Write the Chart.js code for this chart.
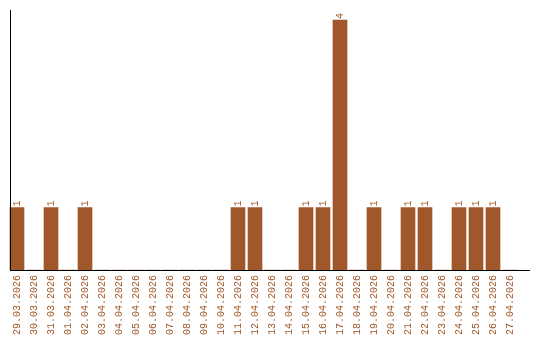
<!DOCTYPE html>
<html>
<head>
<meta charset="utf-8">
<script src="https://cdn.jsdelivr.net/npm/chart.js@4/dist/chart.umd.min.js"></script>
<style>
  html, body { margin: 0; padding: 0; background: #fff; }
  #wrap { width: 540px; height: 340px; }
</style>
</head>
<body>
<div id="wrap"><canvas id="chart" width="540" height="340"></canvas></div>
<script>
// dates on the x axis
const days = [
  '29.03.2026', '30.03.2026', '31.03.2026', '01.04.2026', '02.04.2026',
  '03.04.2026', '04.04.2026', '05.04.2026', '06.04.2026', '07.04.2026',
  '08.04.2026', '09.04.2026', '10.04.2026', '11.04.2026', '12.04.2026',
  '13.04.2026', '14.04.2026', '15.04.2026', '16.04.2026', '17.04.2026',
  '18.04.2026', '19.04.2026', '20.04.2026', '21.04.2026', '22.04.2026',
  '23.04.2026', '24.04.2026', '25.04.2026', '26.04.2026', '27.04.2026'
];

// count per day
const counts = [
  1, 0, 1, 0, 1,
  0, 0, 0, 0, 0,
  0, 0, 0, 1, 1,
  0, 0, 1, 1, 4,
  0, 1, 0, 1, 1,
  0, 1, 1, 1, 0
];

const brown = '#a0582a';
const monoFont = { family: "'Liberation Mono', monospace", size: 10 };

// draws the value above each bar, rotated like the dates
const barValues = {
  id: 'barValues',
  afterDatasetsDraw(chart) {
    const ctx = chart.ctx;
    const meta = chart.getDatasetMeta(0);
    ctx.save();
    ctx.fillStyle = brown;
    ctx.font = "10px 'Liberation Mono', monospace";
    ctx.textAlign = 'left';
    ctx.textBaseline = 'middle';
    meta.data.forEach((bar, i) => {
      if (!counts[i]) return;
      ctx.save();
      ctx.translate(bar.x, bar.y - 1);
      ctx.rotate(-Math.PI / 2);
      ctx.fillText(String(counts[i]), 0, 0);
      ctx.restore();
    });
    ctx.restore();
  }
};

// plain black axis lines
const axisLines = {
  id: 'axisLines',
  afterDraw(chart) {
    const ctx = chart.ctx;
    const a = chart.chartArea;
    ctx.save();
    ctx.strokeStyle = '#000';
    ctx.lineWidth = 1;
    ctx.beginPath();
    ctx.moveTo(10.5, a.top);
    ctx.lineTo(10.5, a.bottom);
    ctx.moveTo(10, a.bottom + 0.5);
    ctx.lineTo(530, a.bottom + 0.5);
    ctx.stroke();
    ctx.restore();
  }
};

new Chart(document.getElementById('chart'), {
  type: 'bar',
  data: {
    labels: days,
    datasets: [{
      data: counts,
      backgroundColor: brown,
      borderWidth: 0,
      barThickness: 14
    }]
  },
  options: {
    responsive: false,
    animation: false,
    layout: { padding: { left: 8.5, right: 21.5, top: 10, bottom: 0 } },
    plugins: { legend: { display: false }, tooltip: { enabled: false } },
    scales: {
      x: {
        grid: { display: false, drawTicks: false },
        border: { display: false },
        ticks: {
          color: brown,
          font: monoFont,
          minRotation: 90,
          maxRotation: 90,
          autoSkip: false,
          padding: 5
        },
        afterFit(scale) { scale.height = 70; }
      },
      y: {
        display: false,
        min: 0,
        max: 4.16
      }
    }
  },
  plugins: [barValues, axisLines]
});
</script>
</body>
</html>
